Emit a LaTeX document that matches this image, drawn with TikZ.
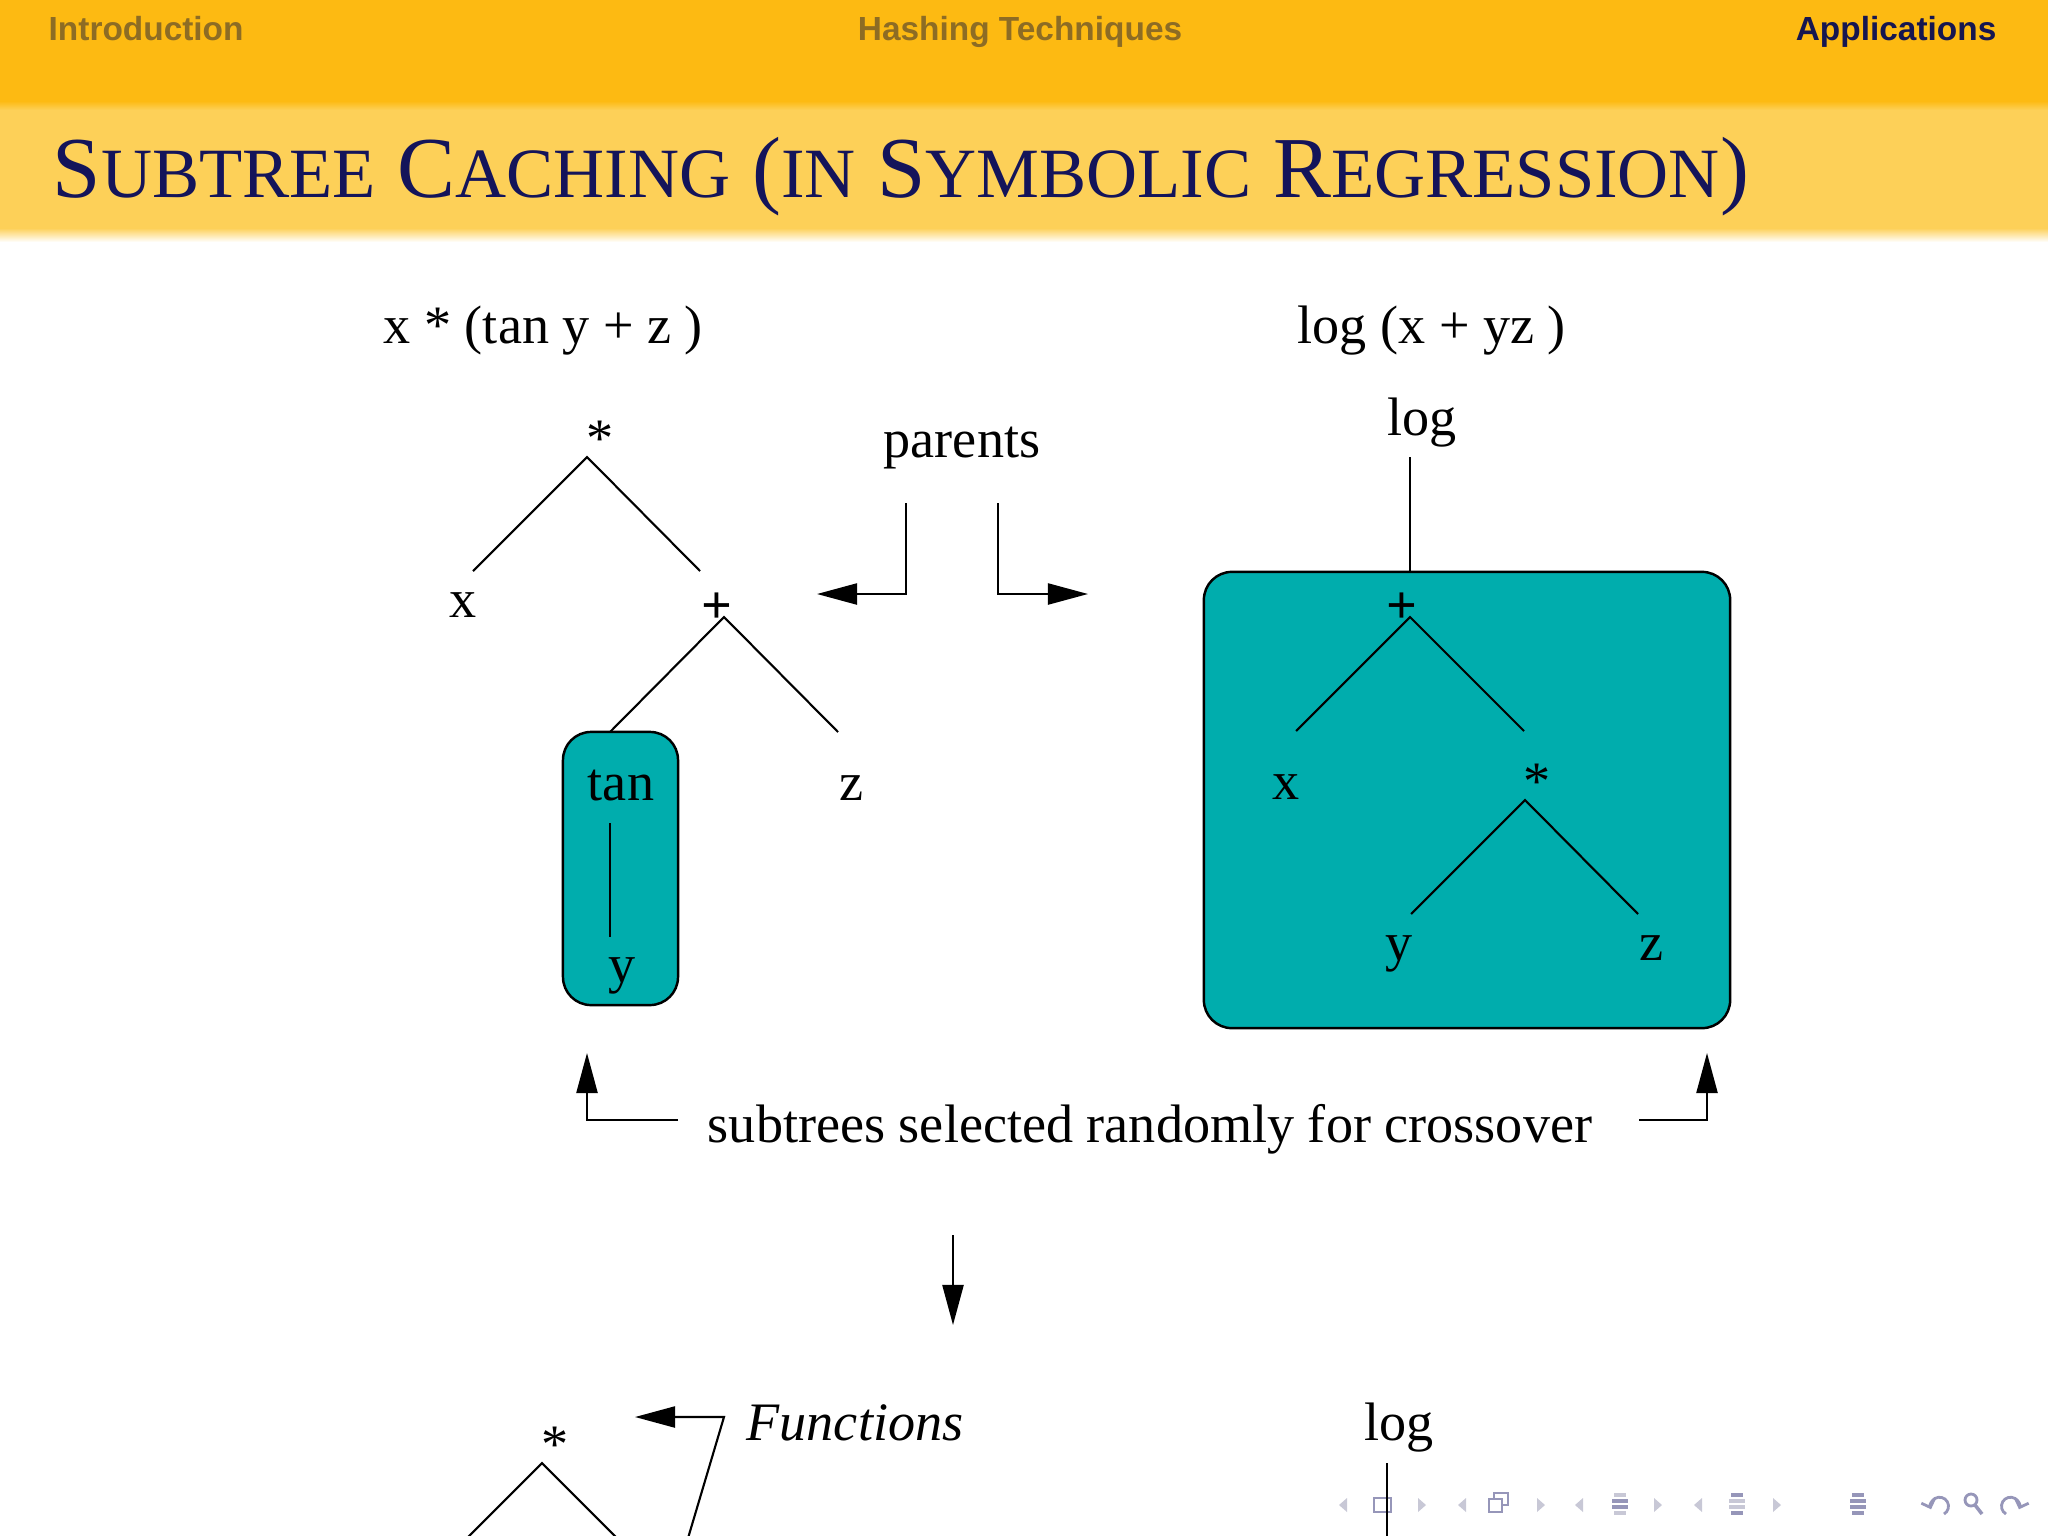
\documentclass[tikz,border=0pt]{standalone}
\usepackage{fontspec}
\setmainfont{Liberation Serif}
\newfontfamily\hdrsans{Liberation Sans}
\usetikzlibrary{arrows.meta}
\definecolor{hdrorange}{RGB}{253,186,18}
\definecolor{titlebg}{RGB}{253,208,88}
\definecolor{hdrinact}{RGB}{141,108,36}
\definecolor{hdract}{RGB}{22,22,80}
\definecolor{titlecol}{RGB}{20,20,90}
\definecolor{tealfill}{RGB}{0,173,173}
\definecolor{navlight}{RGB}{200,200,214}
\definecolor{navdark}{RGB}{150,150,185}
\newcommand\figfont{\fontsize{15.4pt}{18pt}\selectfont}
\newcommand\bigT{\fontsize{24.7pt}{28pt}\selectfont}
\newcommand\smT{\fontsize{20.1pt}{24pt}\selectfont}
\tikzset{
  lbl/.style={inner sep=0pt, anchor=base, font=\figfont},
  hdr/.style={inner sep=0pt, anchor=base, font=\hdrsans\bfseries\fontsize{9.5pt}{11pt}\selectfont},
  edge/.style={line width=0.6pt},
  arr/.style={line width=0.6pt, -{Triangle[length=11.4pt,width=6pt]}},
  tealbox/.style={draw, line width=0.7pt, fill=tealfill, rounded corners=8pt, inner sep=0pt},
  navtri/.style={fill=navlight, draw=none},
  navic/.style={draw=navdark, line width=0.8pt}
}
\begin{document}
\begin{tikzpicture}[x=0.01cm,y=-0.01cm]
\useasboundingbox (0,0) rectangle (2048,1536);
\clip (0,0) rectangle (2048,1536);
% header bands
\fill[hdrorange] (0,0) rectangle (2048,101);
\shade[top color=hdrorange, bottom color=titlebg] (0,101) rectangle (2048,110);
\fill[titlebg] (0,110) rectangle (2048,228);
\shade[top color=titlebg, bottom color=white] (0,228) rectangle (2048,242);
\node[hdr, anchor=base west, text=hdrinact] (hintro) at (48,40) {Introduction};
\node[hdr, text=hdrinact] (hhash) at (1020,40) {Hashing Techniques};
\node[hdr, anchor=base east, text=hdract] (happ) at (1997,40) {Applications};
\node[inner sep=0pt, anchor=base west, text=titlecol, font=\bigT] (title) at (52,197)
  {S{\smT UBTREE} C{\smT ACHING} ({\smT IN} S{\smT YMBOLIC} R{\smT EGRESSION})};

% boxes
\node[tealbox, minimum width=1.15cm, minimum height=2.73cm] (tanbox) at (620.5,868.5) {};
\node[tealbox, minimum width=5.26cm, minimum height=4.56cm] (bigbox) at (1467,800) {};

% left tree
\node[lbl, anchor=base west] (lform) at (383,343) {x * (tan y + z )};
\node[lbl] (lstar) at (600,456) {*};
\node[lbl] (lx) at (463,617) {x};
\node[lbl] (lplus) at (717,623) {\bfseries +};
\node[lbl] (ltan) at (621,800) {tan};
\node[lbl] (ly) at (622,982) {y};
\node[lbl] (lz) at (852,800) {z};
\coordinate (la) at (587,457);
\coordinate (lae1) at (473,571);
\coordinate (lae2) at (700,571);
\coordinate (lpa) at (724,617);
\coordinate (lpe1) at (610,732);
\coordinate (lpe2) at (838,732);
\coordinate (lta) at (610,823);
\coordinate (lte) at (610,937);
\draw[edge] (lae1) -- (la) -- (lae2);
\draw[edge] (lpe1) -- (lpa) -- (lpe2);
\draw[edge] (lta) -- (lte);

% parents
\node[lbl] (parents) at (962,457) {parents};
\coordinate (p1) at (906,503);
\coordinate (p1t) at (817,594);
\coordinate (p2) at (998,503);
\coordinate (p2t) at (1088,594);
\draw[arr] (p1) |- (p1t);
\draw[arr] (p2) |- (p2t);

% right tree
\node[lbl, anchor=base west] (rform) at (1297,343) {log (x + yz )};
\node[lbl] (rlog) at (1422,435) {log};
\node[lbl] (rplus) at (1402,623) {\bfseries +};
\node[lbl] (rx) at (1286,799) {x};
\node[lbl] (rstar) at (1537,799) {*};
\node[lbl] (ry) at (1399,960) {y};
\node[lbl] (rz) at (1651,960) {z};
\coordinate (rl1) at (1410,457);
\coordinate (rl2) at (1410,572);
\coordinate (rpa) at (1410,617);
\coordinate (rpe1) at (1296,731);
\coordinate (rpe2) at (1524,731);
\coordinate (rsa) at (1525,800);
\coordinate (rse1) at (1411,914);
\coordinate (rse2) at (1638,914);
\draw[edge] (rl1) -- (rl2);
\draw[edge] (rpe1) -- (rpa) -- (rpe2);
\draw[edge] (rse1) -- (rsa) -- (rse2);

% crossover
\node[lbl] (cross) at (1150,1142) {subtrees selected randomly for crossover};
\coordinate (c1) at (678,1120);
\coordinate (c1t) at (587,1053);
\coordinate (c2) at (1639,1120);
\coordinate (c2t) at (1707,1053);
\draw[arr] (c1) -| (c1t);
\draw[arr] (c2) -| (c2t);
\coordinate (d1) at (953,1235);
\coordinate (d2) at (953,1325);
\draw[arr] (d1) -- (d2);

% bottom
\node[lbl] (bstar) at (555,1462) {*};
\node[lbl, anchor=base west] (func) at (746,1440) {\itshape Functions};
\node[lbl] (blog) at (1399,1440) {log};
\coordinate (ba) at (542,1463);
\coordinate (be1) at (452,1553);
\coordinate (be2) at (632,1553);
\draw[edge] (be1) -- (ba) -- (be2);
\coordinate (f0) at (683,1555);
\coordinate (f1) at (724,1417);
\coordinate (f2) at (635,1417);
\draw[arr] (f0) -- (f1) -- (f2);

% navigation symbols
\foreach \cx in {1343,1462,1579,1698}{
  \fill[navtri] (\cx+4,1498) -- (\cx-4,1505) -- (\cx+4,1512) -- cycle;}
\foreach \cx in {1422,1541,1658,1777}{
  \fill[navtri] (\cx-4,1498) -- (\cx+4,1505) -- (\cx-4,1512) -- cycle;}
\draw[navic] (1374,1498) rectangle (1391,1512);
\draw[navic, fill=white] (1494,1493) rectangle (1508,1505);
\draw[navic, fill=white] (1489,1499) rectangle (1502,1512);
\foreach \cx/\ca/\cb in {1620/navlight/navdark,1737/navdark/navlight,1858/navdark/navdark}{
  \draw[\ca, line width=1.2pt] (\cx-6,1495) -- (\cx+6,1495);
  \draw[\cb, line width=1.2pt] (\cx-8,1501) -- (\cx+8,1501);
  \draw[\cb, line width=1.2pt] (\cx-8,1507) -- (\cx+8,1507);
  \draw[\ca, line width=1.2pt] (\cx-6,1513) -- (\cx+6,1513);
}
\draw[navic, -{Straight Barb[length=2pt]}] (1944,1514) arc[start angle=-60, end angle=200, radius=0.09cm];
\draw[navic] (1971,1500) circle[radius=0.06cm];
\draw[navic, line width=1pt] (1975,1505) -- (1982,1514);
\draw[navic, -{Straight Barb[length=2pt]}] (2006,1514) arc[start angle=240, end angle=-20, radius=0.09cm];

\coordinate (bl1) at (1387,1463);
\coordinate (bl2) at (1387,1553);
\draw[edge] (bl1) -- (bl2);
\end{tikzpicture}
\end{document}
